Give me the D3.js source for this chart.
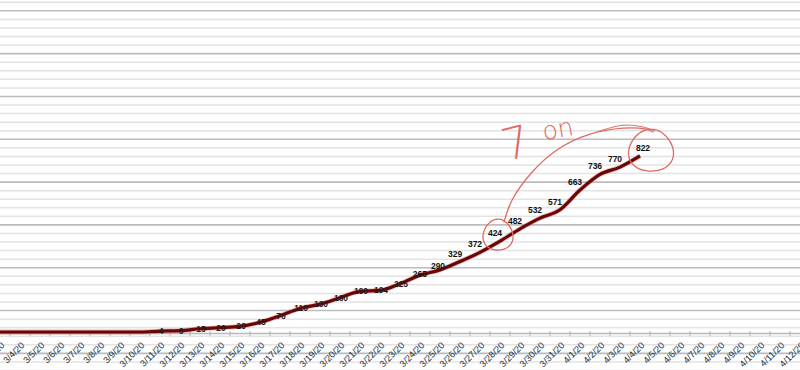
<!DOCTYPE html>
<html>
<head>
<meta charset="utf-8">
<script src="https://cdn.jsdelivr.net/npm/d3@7"></script>
<style>
  html, body { margin: 0; padding: 0; background: #fff; }
  svg { display: block; }
</style>
</head>
<body>
<svg id="chart" width="800" height="370"></svg>
<script>
// ---- data ----
const dates = [
  "3/3/20","3/4/20","3/5/20","3/6/20","3/7/20","3/8/20","3/9/20","3/10/20","3/11/20","3/12/20",
  "3/13/20","3/14/20","3/15/20","3/16/20","3/17/20","3/18/20","3/19/20","3/20/20","3/21/20","3/22/20",
  "3/23/20","3/24/20","3/25/20","3/26/20","3/27/20","3/28/20","3/29/20","3/30/20","3/31/20","4/1/20",
  "4/2/20","4/3/20","4/4/20","4/5/20","4/6/20","4/7/20","4/8/20","4/9/20","4/10/20","4/11/20","4/12/20"
];
const seriesDates = dates.slice(0, 33); // 3/3/20 .. 4/4/20
const cases = [0,0,0,0,0,0,0,0,4,6,15,20,26,45,76,110,130,160,190,194,225,265,290,329,372,424,482,532,571,663,736,770,822];
const majorTicks = [-100,100,300,500,700,900,1100,1300,1500];
const minorTicks = d3.range(-180, 1600, 40);
const noteText = ["7", "on"];
const circled = ["3/28/20", "4/4/20"];

// ---- scales ----
const W = 800, H = 370;
const svg = d3.select("#chart");
const x = d3.scaleBand().domain(dates).range([-10, 810]).paddingInner(0).paddingOuter(0);
const cx = d => x(d) + x.bandwidth() / 2;
const y = d3.scaleLinear().domain([-200, 1600]).range([374.8, -10.6]);

// ---- gridlines ----
const grid = svg.append("g");
grid.selectAll("line.minor").data(minorTicks.filter(v => !majorTicks.includes(v)))
  .join("line").attr("class", "minor")
  .attr("x1", 0).attr("x2", W)
  .attr("y1", d => y(d)).attr("y2", d => y(d))
  .attr("stroke", "#e3e3e3").attr("stroke-width", 1.5);
grid.selectAll("line.major").data(majorTicks)
  .join("line").attr("class", "major")
  .attr("x1", 0).attr("x2", W)
  .attr("y1", d => y(d)).attr("y2", d => y(d))
  .attr("stroke", "#bcbcbc").attr("stroke-width", 1.6);

// ---- x axis ----
const axisY = y(0) + 1;
const axis = d3.axisBottom(x).tickSize(0).tickFormat(d => d);
const gx = svg.append("g").attr("transform", `translate(0,${axisY})`).call(axis);
gx.select(".domain").attr("stroke", "#b8b8b8").attr("stroke-width", 1.5);
gx.selectAll(".tick text")
  .attr("font-family", "Liberation Sans, Arial, sans-serif")
  .attr("font-size", 9.2)
  .attr("fill", "#2e2e2e")
  .attr("text-anchor", "end")
  .attr("dy", 0).attr("y", 0)
  .attr("transform", "translate(5,13) rotate(-45)");
// boundary tick marks
gx.selectAll("line.bt").data(dates)
  .join("line").attr("class", "bt")
  .attr("x1", d => x(d)).attr("x2", d => x(d))
  .attr("y1", -2).attr("y2", 3)
  .attr("stroke", "#b0b0b0").attr("stroke-width", 1);

// ---- line ----
const pts = seriesDates.map((d, i) => ({ d, v: cases[i] }));
const line = d3.line().x(p => cx(p.d)).y(p => y(p.v)).curve(d3.curveMonotoneX);
svg.append("path").datum(pts)
  .attr("fill", "none").attr("stroke", "#c33a3a").attr("stroke-opacity", 0.35)
  .attr("stroke-width", 4.8).attr("stroke-linejoin", "round").attr("d", line);
svg.append("path").datum(pts)
  .attr("fill", "none").attr("stroke", "#6a0606")
  .attr("stroke-width", 3.2).attr("stroke-linejoin", "round").attr("stroke-linecap", "butt").attr("d", line);

// ---- data labels ----
const off = d3.scaleLinear().domain([250, 330]).range([0, 1]).clamp(true);
const last = pts[pts.length - 1];
svg.append("g").selectAll("text").data(pts.filter(p => p.v > 0))
  .join("text")
  .attr("x", p => p === last ? cx(p.d) + 3 : cx(p.d) + 1 - 6 * off(p.v))
  .attr("y", p => y(p.v) + 3 - 8 * off(p.v))
  .attr("text-anchor", "middle")
  .attr("font-family", "Liberation Sans, Arial, sans-serif")
  .attr("font-weight", "bold")
  .attr("font-size", 8.5)
  .attr("fill", p => p.v < 250 ? "#2a1a1a" : "#111")
  .text(p => p.v);

// ---- hand-drawn annotations ----
const red = "#e06a64";
const ann = svg.append("g").attr("fill", "none").attr("stroke", red)
  .attr("stroke-width", 1.3).attr("stroke-linecap", "round");
const c1 = { x: cx(circled[0]) - 2, y: y(cases[seriesDates.indexOf(circled[0])]) - 6 };
const c2 = { x: cx(circled[1]) + 11, y: y(cases[seriesDates.indexOf(circled[1])]) - 5 };

function handEllipse(c, rx, ry, start, sweep) {
  const n = 40, p = [];
  for (let i = 0; i <= n; i++) {
    const a = start + sweep * i / n;
    const wob = 1 + 0.04 * Math.sin(a * 3);
    p.push([c.x + rx * wob * Math.cos(a), c.y + ry * wob * Math.sin(a)]);
  }
  return d3.line().curve(d3.curveBasis)(p);
}
ann.append("path").attr("d", handEllipse(c1, 15, 15.5, -2.0, Math.PI * 2.1));
ann.append("path").attr("d", handEllipse(c2, 22.5, 21, -2.3, Math.PI * 2.15));

// connecting arc from circle 1 to circle 2
const arcPts = [
  [c1.x + 6, c1.y - 13],
  [c1.x + 14, c1.y - 35],
  [c1.x + 34, c1.y - 63],
  [c1.x + 60, c1.y - 86],
  [c1.x + 92, c1.y - 101],
  [c1.x + 125, c1.y - 107],
  [c2.x - 6, c2.y - 22],
  [c2.x + 2, c2.y - 19]
];
ann.append("path").attr("d", d3.line().curve(d3.curveCatmullRom)(arcPts));
const arcPts2 = [
  [c1.x + 98, c1.y - 103],
  [c1.x + 125, c1.y - 110],
  [c2.x - 8, c2.y - 24],
  [c2.x + 4, c2.y - 20]
];
ann.append("path").attr("d", d3.line().curve(d3.curveCatmullRom)(arcPts2)).attr("stroke-width", 1);

// handwritten note
svg.append("text")
  .attr("x", c1.x + 18).attr("y", c1.y - 77)
  .attr("text-anchor", "middle")
  .attr("font-family", "DejaVu Sans, sans-serif")
  .attr("font-weight", 200)
  .attr("font-size", 44)
  .attr("fill", red)
  .attr("transform", `rotate(-14, ${c1.x + 18}, ${c1.y - 92})`)
  .text(noteText[0]);
svg.append("text")
  .attr("x", c1.x + 46).attr("y", c1.y - 95)
  .attr("font-family", "DejaVu Sans, sans-serif")
  .attr("font-weight", 200)
  .attr("font-size", 25)
  .attr("fill", red)
  .attr("transform", `rotate(-10, ${c1.x + 46}, ${c1.y - 95})`)
  .text(noteText[1]);
</script>
</body>
</html>
